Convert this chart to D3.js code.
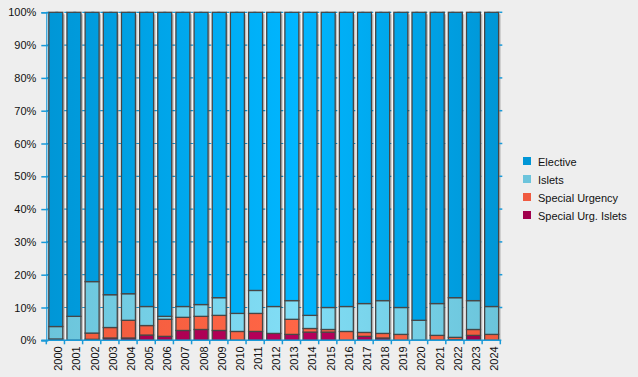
<!DOCTYPE html>
<html lang="en">
<head>
   <meta charset="UTF-8">
   <title>Stacked percent</title>
   <style>
      body {
         margin: 0;
         background: #eeeeee;
      }

      text {
         font-family: "Liberation Sans", Arial, sans-serif;
         font-size: 11px;
         fill: #111;
      }
   </style>
   <script src="https://cdn.jsdelivr.net/npm/d3@7/dist/d3.min.js"></script>
</head>
<body>
   <div class="chart"></div>
   <script>
      // data (percent of each year)
      const years = ['2000', '2001', '2002', '2003', '2004', '2005', '2006', '2007', '2008', '2009', '2010', '2011', '2012',
         '2013', '2014', '2015', '2016', '2017', '2018', '2019', '2020', '2021', '2022', '2023', '2024']
      const specUrgIslets = [0.4, 0, 0.3, 0.7, 0.7, 1.6, 1.2, 3.0, 3.3, 3.0, 0, 2.7, 2.1,
         1.8, 2.5, 2.5, 0, 1.2, 0.7, 0, 0, 0, 0.2, 1.5, 0]
      const specUrgency = [0, 0, 1.9, 3.2, 5.4, 2.9, 5.2, 4.0, 4.0, 4.6, 2.7, 5.5, 0,
         4.6, 1.1, 0.8, 2.7, 1.2, 1.4, 1.8, 0, 1.5, 0.7, 1.8, 1.8]
      const islets = [3.8, 7.3, 15.7, 10.0, 8.1, 5.8, 0.9, 3.3, 3.6, 5.4, 5.5, 7.0, 8.2,
         5.7, 4.0, 6.7, 7.6, 8.8, 10.0, 8.2, 6.1, 9.7, 12.1, 8.8, 8.5]
      const elective = [95.8, 92.7, 82.1, 86.1, 85.8, 89.7, 92.7, 89.7, 89.1, 87.0, 91.8, 84.8, 89.7,
         87.9, 92.4, 90.0, 89.7, 88.8, 87.9, 90.0, 93.9, 88.8, 87.0, 87.9, 89.7]
      const yTicks = [0, 10, 20, 30, 40, 50, 60, 70, 80, 90, 100]

      const series = [
         { key: 'Special Urg. Islets', values: specUrgIslets, legend: '#a0004c', edge: '#a00048', mid: '#b8005c' },
         { key: 'Special Urgency', values: specUrgency, legend: '#f05a40', edge: '#f05a3c', mid: '#ff6646' },
         { key: 'Islets', values: islets, legend: '#6cc4dc', edge: '#6bc4da', mid: '#82def6' },
         { key: 'Elective', values: elective, legend: '#0096d6', edge: '#0096d6', mid: '#00b6ff' },
      ]

      // setup
      const W = 638, H = 377
      const svg = d3.select('.chart').append('svg')
         .attr('width', W)
         .attr('height', H)

      const plot = { left: 46.3, right: 500.3, top: 12.3, bottom: 340.3 }

      const table = years.map((y, i) => {
         const row = { year: y }
         series.forEach(s => row[s.key] = s.values[i] / 100)
         return row
      })
      const stacked = d3.stack().keys(series.map(s => s.key))(table)

      // scales
      const x = d3.scaleBand()
         .domain(years)
         .range([plot.left, plot.right])
         .padding(0)

      const y = d3.scaleLinear()
         .domain([0, 1])
         .range([plot.bottom, plot.top])

      const barW = x.bandwidth() * 0.77
      const barOff = 2.5

      // gradients
      const defs = svg.append('defs')
      series.forEach((s, i) => {
         const g = defs.append('linearGradient')
            .attr('id', 'grad' + i)
            .attr('gradientUnits', 'userSpaceOnUse')
            .attr('x1', plot.left).attr('x2', plot.right)
            .attr('y1', 0).attr('y2', 0)
         g.append('stop').attr('offset', '0%').attr('stop-color', s.edge)
         g.append('stop').attr('offset', '55%').attr('stop-color', s.mid)
         g.append('stop').attr('offset', '100%').attr('stop-color', s.edge)
      })

      // plot background
      svg.append('rect')
         .attr('x', plot.left)
         .attr('y', plot.top)
         .attr('width', plot.right - plot.left)
         .attr('height', plot.bottom - plot.top)
         .attr('fill', '#f6f6f6')

      // dashed grid
      svg.append('g')
         .selectAll('line')
         .data(yTicks.slice(1))
         .enter()
         .append('line')
            .attr('x1', plot.left)
            .attr('x2', plot.right + 1)
            .attr('y1', d => y(d / 100))
            .attr('y2', d => y(d / 100))
            .attr('stroke', '#1a9ad8')
            .attr('stroke-width', 1.2)
            .attr('stroke-dasharray', '3,6')

      // shadows
      svg.append('g')
         .selectAll('rect')
         .data(years)
         .enter()
         .append('rect')
            .attr('x', d => x(d) + barOff + 2)
            .attr('y', y(1) + 2)
            .attr('width', barW)
            .attr('height', y(0) - y(1) - 2)
            .attr('fill', '#000')
            .attr('opacity', 0.22)

      // bars
      svg.append('g')
         .selectAll('g')
         .data(stacked)
         .enter()
         .append('g')
            .attr('fill', (_, i) => `url(#grad${i})`)
         .selectAll('rect')
         .data(d => d.filter(p => p[1] - p[0] > 0))
         .enter()
         .append('rect')
            .attr('x', d => x(d.data.year) + barOff)
            .attr('y', d => y(d[1]))
            .attr('width', barW)
            .attr('height', d => y(d[0]) - y(d[1]))
            .attr('stroke', '#464646')
            .attr('stroke-width', 1.3)

      // axes
      const yAxis = d3.axisLeft(y)
         .tickValues(yTicks.map(t => t / 100))
         .tickFormat(d3.format('.0%'))
         .tickSize(5)
         .tickPadding(5)

      const yAxisGroup = svg.append('g')
         .attr('transform', `translate(${plot.left}, 0)`)
         .call(yAxis)
      yAxisGroup.select('.domain').attr('stroke', '#1a9ad8').attr('stroke-width', 1.2)
      yAxisGroup.selectAll('.tick line')
         .attr('x1', 2)
         .attr('stroke', '#1a9ad8')
         .attr('stroke-width', 1.5)
      yAxisGroup.selectAll('.tick text').attr('fill', '#111').attr('font-size', 11).attr('font-family', null)

      const xAxisGroup = svg.append('g')
         .attr('transform', `translate(0, ${plot.bottom})`)
      xAxisGroup.append('line')
         .attr('x1', plot.left - 5)
         .attr('x2', plot.right + 1)
         .attr('stroke', '#1a9ad8')
         .attr('stroke-width', 1.5)
      xAxisGroup.selectAll('.xtick')
         .data(years.concat(['end']))
         .enter()
         .append('line')
            .attr('x1', d => d === 'end' ? plot.right : x(d))
            .attr('x2', d => d === 'end' ? plot.right : x(d))
            .attr('y1', 0)
            .attr('y2', 4)
            .attr('stroke', '#1a9ad8')
            .attr('stroke-width', 1.5)
      xAxisGroup.selectAll('text')
         .data(years)
         .enter()
         .append('text')
            .attr('transform', d => `translate(${x(d) + x.bandwidth() / 2 + 3}, 6) rotate(-90)`)
            .attr('text-anchor', 'end')
            .attr('dy', '0.35em')
            .text(d => d)

      // right edge dashes
      svg.append('g')
         .selectAll('line')
         .data(yTicks.slice(1))
         .enter()
         .append('line')
            .attr('x1', plot.right - 1)
            .attr('x2', plot.right + 2)
            .attr('y1', d => y(d / 100))
            .attr('y2', d => y(d / 100))
            .attr('stroke', '#1a9ad8')
            .attr('stroke-width', 1.5)

      // legend
      const legend = svg.append('g')
         .attr('transform', 'translate(523, 157)')
      const legendRows = legend.selectAll('g')
         .data(series.slice().reverse())
         .enter()
         .append('g')
            .attr('transform', (_, i) => `translate(0, ${i * 18})`)
      legendRows.append('rect')
         .attr('width', 8)
         .attr('height', 8)
         .attr('fill', d => d.legend)
      legendRows.append('text')
         .attr('x', 15)
         .attr('y', 8.5)
         .text(d => d.key)
   </script>
</body>
</html>
